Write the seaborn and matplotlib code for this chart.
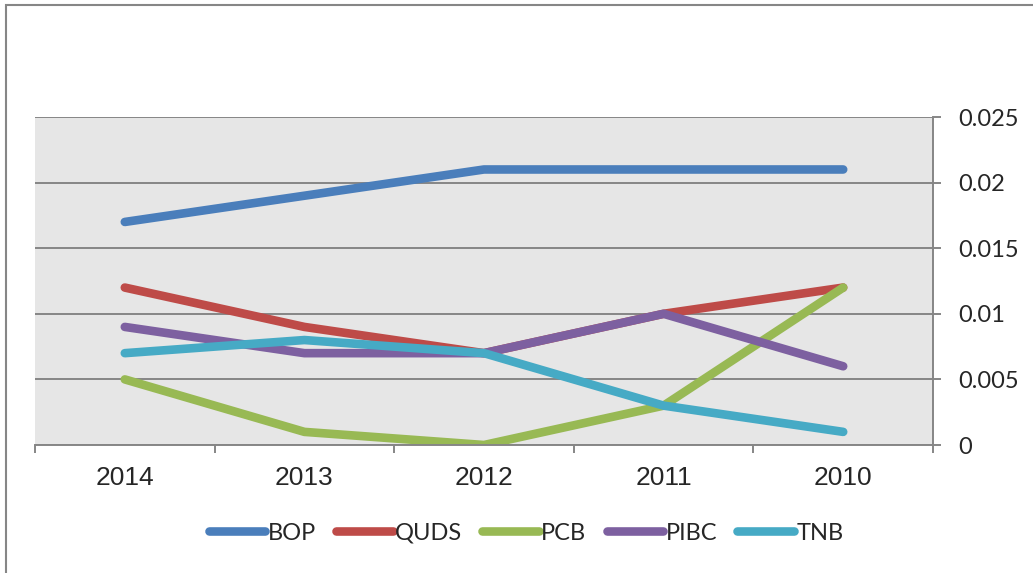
import numpy as np
import pandas as pd
import matplotlib
matplotlib.use("Agg")
import matplotlib.pyplot as plt
import seaborn as sns
from matplotlib.patches import Rectangle
from matplotlib.ticker import FixedLocator, MultipleLocator, FuncFormatter

# Data
years = ["2014", "2013", "2012", "2011", "2010"]
bop = [0.017, 0.019, 0.021, 0.021, 0.021]
quds = [0.012, 0.009, 0.007, 0.010, 0.012]
pcb = [0.005, 0.001, 0.000, 0.003, 0.012]
pibc = [0.009, 0.007, 0.007, 0.010, 0.006]
tnb = [0.007, 0.008, 0.007, 0.003, 0.001]

banks = ["BOP", "QUDS", "PCB", "PIBC", "TNB"]
colors = ["#4a7ebb", "#be4b48", "#98b954", "#7d60a0", "#46aac5"]

df = pd.DataFrame({"year": years, "BOP": bop, "QUDS": quds, "PCB": pcb,
                   "PIBC": pibc, "TNB": tnb})
long_df = df.melt(id_vars="year", var_name="bank", value_name="value")

sns.set_style("white")
plt.rcParams["font.family"] = ["Liberation Sans", "DejaVu Sans"]

fig = plt.figure(figsize=(10.33, 5.73), dpi=100)
ax = fig.add_axes([35 / 1033, 1 - 445 / 573, 898 / 1033, 328 / 573])
ax.set_facecolor("#e6e6e6")

lw = 6.2
sns.lineplot(data=long_df, x="year", y="value", hue="bank",
             hue_order=banks, palette=colors, sort=False,
             linewidth=lw, solid_capstyle="round", ax=ax)

ax.set_xlim(-0.5, 4.5)
ax.set_ylim(0, 0.025)
ax.yaxis.set_major_locator(MultipleLocator(0.005))
ax.yaxis.set_major_formatter(FuncFormatter(lambda v, p: "0" if v == 0 else f"{v:g}"))
ax.yaxis.tick_right()
ax.grid(axis="y", color="#868686", linewidth=1.4)
ax.set_axisbelow(True)

grid_col = "#868686"
for side in ["left", "top"]:
    ax.spines[side].set_visible(False)
for side in ["right", "bottom"]:
    ax.spines[side].set_color(grid_col)
    ax.spines[side].set_linewidth(1.4)

ax.tick_params(axis="y", which="major", right=True, left=False, length=6,
               width=1.4, color=grid_col, pad=12, labelsize=17)
for lbl in ax.get_yticklabels():
    lbl.set_fontfamily(["Lato", "DejaVu Sans"])
ax.xaxis.set_minor_locator(FixedLocator(np.arange(-0.5, 5, 1)))
ax.tick_params(axis="x", which="major", length=0, pad=15, labelsize=19)
ax.tick_params(axis="x", which="minor", length=6, width=1.4,
               color=grid_col, bottom=True)

ax.set_xlabel("")
ax.set_ylabel("")

handles, labels = ax.get_legend_handles_labels()
ax.get_legend().remove()
for h in handles:
    h.set_solid_capstyle("round")
    h.set_linewidth(lw)
fig.legend(handles, labels, loc="center", bbox_to_anchor=(526 / 1033, 1 - 533 / 573),
           ncol=5, frameon=False, handlelength=2.4, handletextpad=0.1,
           columnspacing=0.85, prop={"family": "Lato", "size": 17})

# outer chart border (only top and left edges visible)
fig.add_artist(Rectangle((5.5 / 1033, -0.1), 1.2, 1.1 - 5 / 573,
                         transform=fig.transFigure, fill=False,
                         edgecolor="#868686", linewidth=1.5, clip_on=False))

fig.savefig("out.png", dpi=100)
